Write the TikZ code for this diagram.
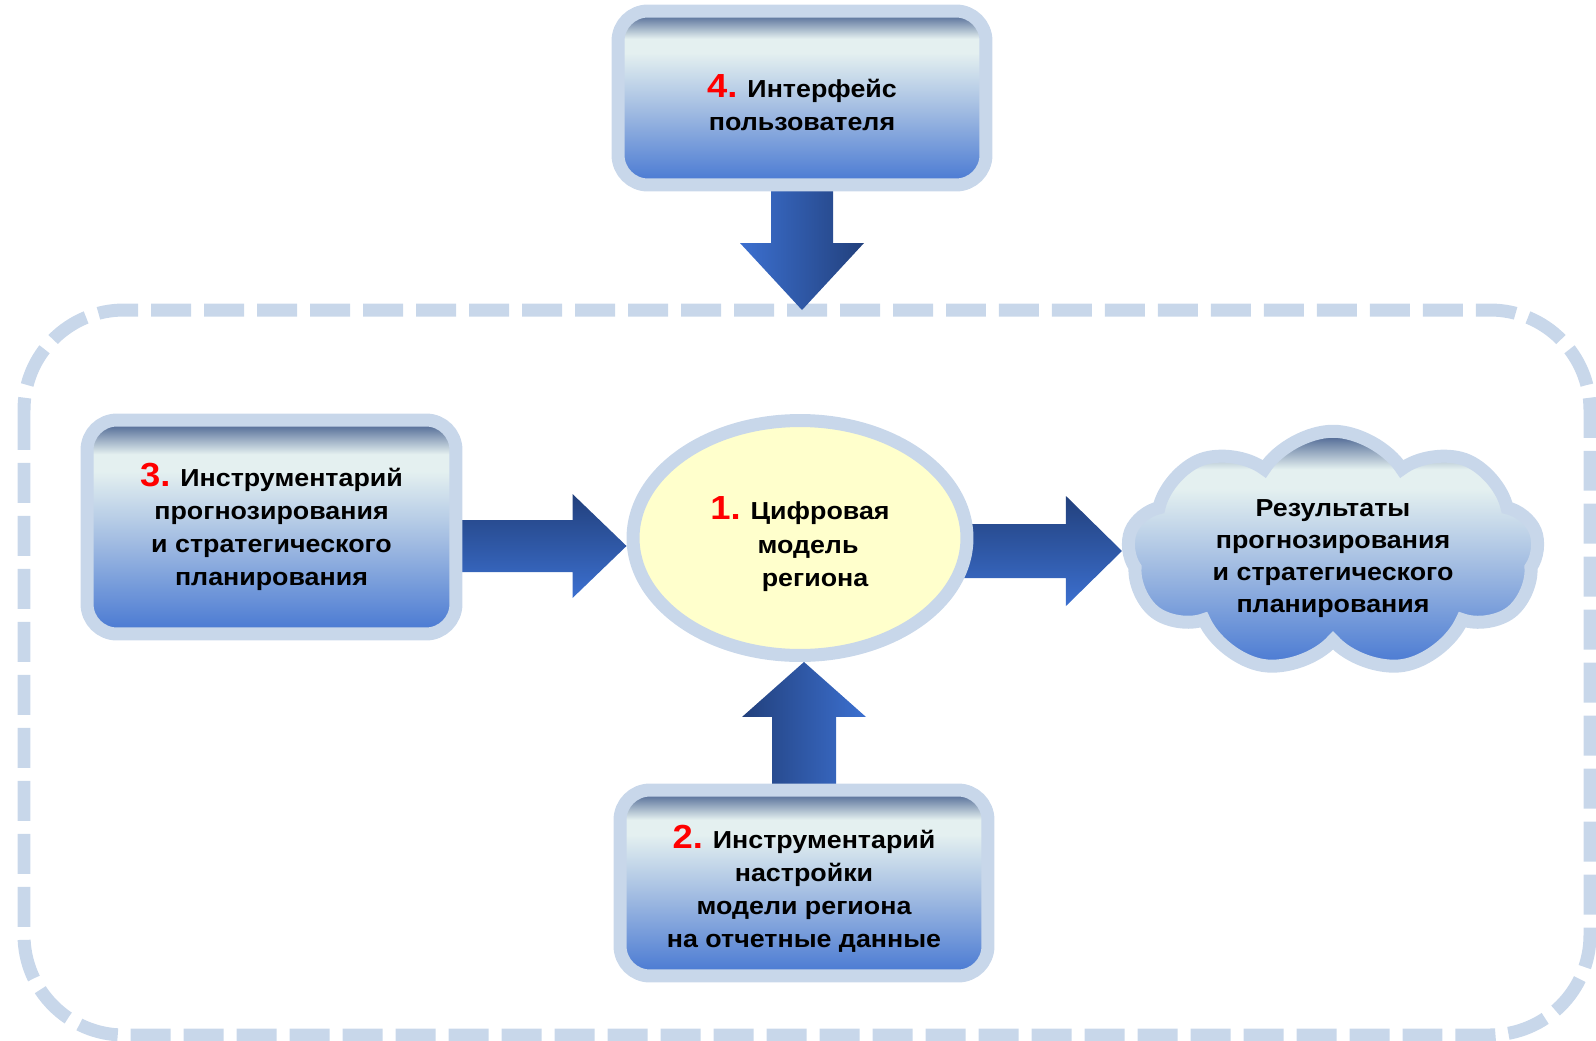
\documentclass[tikz,border=0pt]{standalone}
\usepackage{fontspec}
\setmainfont{Liberation Sans}[FakeStretch=1.09]
\usetikzlibrary{shapes.geometric, shapes.symbols, calc, backgrounds}

\definecolor{edgeblue}{HTML}{C8D7EA}
\definecolor{shtop}{HTML}{3B5688}
\definecolor{shlight}{HTML}{E4F0F0}
\definecolor{shmid}{HTML}{A3BDE2}
\definecolor{shbot}{HTML}{4677D2}
\definecolor{modelyellow}{HTML}{FFFFCC}
\definecolor{arrdark}{HTML}{22407C}
\definecolor{arrlight}{HTML}{3C70D0}
\definecolor{numred}{HTML}{FF0000}

\pgfdeclareverticalshading{boxshade}{100bp}{color(0bp)=(shbot); color(25bp)=(shbot);
  color(47bp)=(shmid); color(63bp)=(shlight); color(67bp)=(shlight);
  color(75bp)=(shtop); color(100bp)=(shtop)}

% red step number, optional strut to push the text block down
\newcommand\nr[2][0pt]{\rule{0pt}{#1}{\color{numred}\fontsize{19}{19}\selectfont #2}}

\tikzset{
  box/.style={rectangle, rounded corners=0.6cm, draw=edgeblue, line width=0.26cm,
    shade, shading=boxshade, align=center, inner sep=0pt, outer sep=0.13cm,
    font=\fontsize{14}{18.8}\selectfont\bfseries},
  model/.style={ellipse, draw=edgeblue, line width=0.26cm, fill=modelyellow,
    align=center, inner sep=0pt, outer sep=0.13cm,
    minimum width=6.68cm, minimum height=4.70cm,
    font=\fontsize{14}{18.8}\selectfont\bfseries},
  result/.style={cloud, cloud puffs=9, cloud puff arc=115, aspect=1.8,
    draw=edgeblue, line width=0.26cm, shade, shading=boxshade,
    align=center, inner sep=0pt, outer sep=0.13cm,
    minimum width=8.22cm, minimum height=4.25cm,
    font=\fontsize{14}{18.3}\selectfont\bfseries},
  frameline/.style={draw=edgeblue, line width=0.26cm, rounded corners=2cm,
    dash pattern=on 0.8cm off 0.26cm},
}

\begin{document}
\begin{tikzpicture}[x=0.02cm, y=-0.02cm]
	\useasboundingbox (0,0) rectangle (1596,1041);

	\node[box, minimum width=7.36cm, minimum height=3.48cm] (iface) at (802,98)
		{\nr[18pt]{4.} Интерфейс\\пользователя};
	\node[box, minimum width=7.38cm, minimum height=4.28cm] (forecast) at (271.5,527)
		{\nr{3.} Инструментарий\\прогнозирования\\и стратегического\\планирования};
	\node[box, minimum width=7.36cm, minimum height=3.72cm] (tuning) at (804,883)
		{\nr[20pt]{2.} Инструментарий\\настройки\\модели региона\\на отчетные данные};
	\node[model] (model) at (800,538)
		{\nr[20pt]{1.} Цифровая\\\hspace*{0.32cm}модель\\\hspace*{0.6cm}региона};
	\node[result] (results) at (1333,552)
		{\rule{0pt}{17pt}Результаты\\прогнозирования\\и стратегического\\планирования};

	\coordinate (frameNW) at (24,310);
	\coordinate (frameSE) at (1590,1035);

	\begin{scope}[on background layer]
		\draw[frameline] (frameNW) rectangle (frameSE);

		% interface -> frame
		\coordinate (d0) at (iface.center);
		\coordinate (d1) at (iface.center |- frameNW);
		\shade[left color=arrlight, right color=arrdark]
			($(d0)+(-31,0)$) -- ($(d1)+(-31,-67)$) -- ($(d1)+(-62,-67)$) -- (d1)
			-- ($(d1)+(62,-67)$) -- ($(d1)+(31,-67)$) -- ($(d0)+(31,0)$) -- cycle;

		% tuning -> model
		\coordinate (u0) at (tuning.center);
		\coordinate (u1) at (tuning.center |- model.south);
		\shade[left color=arrdark, right color=arrlight]
			($(u0)+(-32,0)$) -- ($(u1)+(-32,55)$) -- ($(u1)+(-62,55)$) -- (u1)
			-- ($(u1)+(62,55)$) -- ($(u1)+(32,55)$) -- ($(u0)+(32,0)$) -- cycle;

		% forecast -> model
		\coordinate (l0) at ($(forecast.center)+(0,19)$);
		\coordinate (l1) at (model.west |- l0);
		\shade[top color=arrdark, bottom color=arrlight]
			($(l0)+(0,-26)$) -- ($(l1)+(-54,-26)$) -- ($(l1)+(-54,-52)$) -- (l1)
			-- ($(l1)+(-54,52)$) -- ($(l1)+(-54,26)$) -- ($(l0)+(0,26)$) -- cycle;

		% model -> results
		\coordinate (r0) at ($(model.center)+(0,13)$);
		\coordinate (r1) at (results.west |- r0);
		\shade[top color=arrdark, bottom color=arrlight]
			($(r0)+(0,-27)$) -- ($(r1)+(-56,-27)$) -- ($(r1)+(-56,-55)$) -- (r1)
			-- ($(r1)+(-56,55)$) -- ($(r1)+(-56,27)$) -- ($(r0)+(0,27)$) -- cycle;
	\end{scope}
\end{tikzpicture}
\end{document}
